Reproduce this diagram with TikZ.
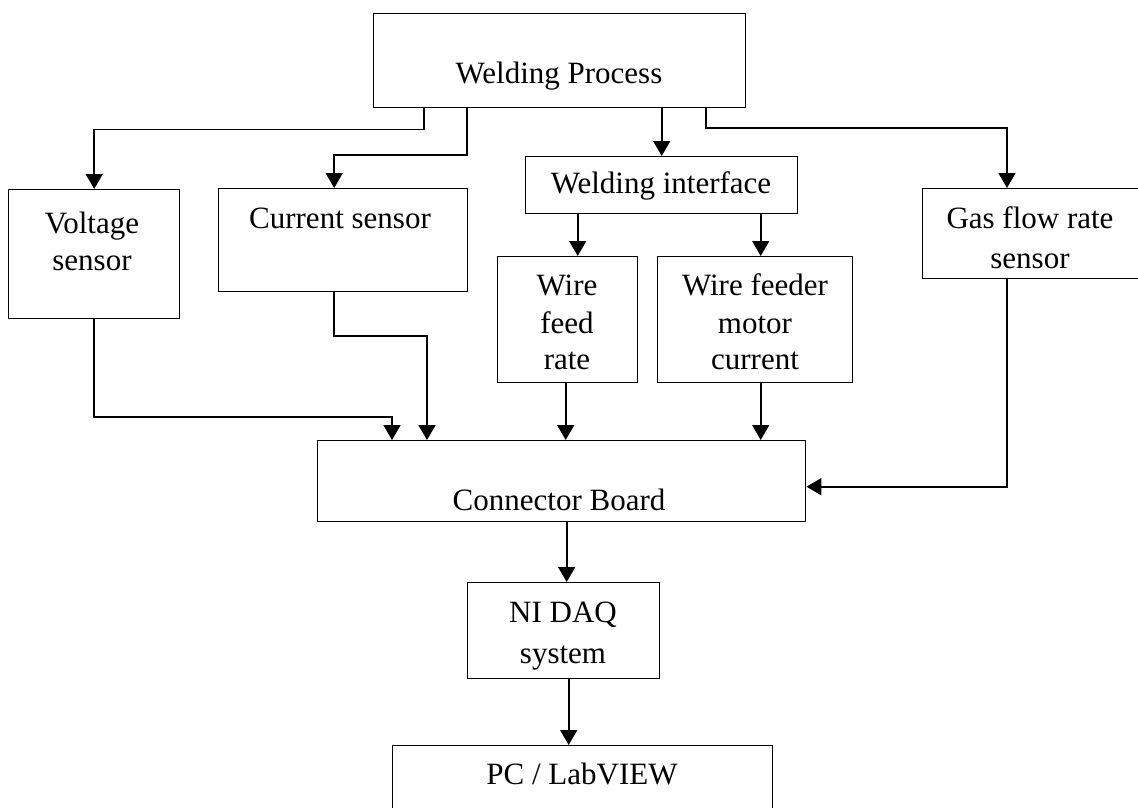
\documentclass[tikz,border=0pt]{standalone}
\usepackage{fontspec}
\setmainfont{Liberation Serif}
\usetikzlibrary{arrows.meta}
\begin{document}
\begin{tikzpicture}[x=1pt,y=-1pt,
  box/.style={draw, line width=1.4pt, rectangle, inner sep=0pt, anchor=north west},
  lbl/.style={anchor=base, inner sep=0pt, font=\fontsize{31}{37}\selectfont},
  link/.style={line width=1.6pt},
  arr/.style={link, -{Triangle[length=15pt,width=17pt]}}]
\useasboundingbox (0,0) rectangle (1138,808);
\clip (0,0) rectangle (1138,808);

% blocks
\node[box, minimum width=372pt, minimum height=94pt]  (wp) at (373,13)  {};
\node[box, minimum width=171pt, minimum height=129pt] (vs) at (8,189)   {};
\node[box, minimum width=249pt, minimum height=103pt] (cs) at (218,188) {};
\node[box, minimum width=272pt, minimum height=57pt]  (wi) at (525,156) {};
\node[box, minimum width=140pt, minimum height=126pt] (wf) at (497,256) {};
\node[box, minimum width=195pt, minimum height=126pt] (wm) at (657,256) {};
\node[box, minimum width=240pt, minimum height=90pt]  (gs) at (922,188) {};
\node[box, minimum width=488pt, minimum height=81pt]  (cb) at (317,440) {};
\node[box, minimum width=192pt, minimum height=96pt]  (nd) at (467,582) {};
\node[box, minimum width=380pt, minimum height=100pt] (pc) at (392,745) {};

% block texts
\node[lbl] (wp-t)  at (559,84)  {Welding Process};
\node[lbl] (vs-t1) at (92,233)  {Voltage};
\node[lbl] (vs-t2) at (92,270)  {sensor};
\node[lbl] (cs-t)  at (340,228) {Current sensor};
\node[lbl] (wi-t)  at (661,193) {Welding interface};
\node[lbl] (wf-t1) at (567,295) {Wire};
\node[lbl] (wf-t2) at (567,333) {feed};
\node[lbl] (wf-t3) at (567,369) {rate};
\node[lbl] (wm-t1) at (755,295) {Wire feeder};
\node[lbl] (wm-t2) at (755,333) {motor};
\node[lbl] (wm-t3) at (755,369) {current};
\node[lbl] (gs-t1) at (1030,228) {Gas flow rate};
\node[lbl] (gs-t2) at (1030,268) {sensor};
\node[lbl] (cb-t)  at (559,510) {Connector Board};
\node[lbl] (nd-t1) at (563,622) {NI DAQ};
\node[lbl] (nd-t2) at (563,663) {system};
\node[lbl] (pc-t)  at (582,784) {PC / LabVIEW};

% welding process to sensors and interface
\draw[arr] ([xshift=51pt]wp.south west) |- ([yshift=-21pt]wp.south west -| vs.north) -- (vs.north);
\draw[arr] ([xshift=94pt]wp.south west) |- ([xshift=-9pt,yshift=33pt]cs.north) -- ([xshift=-9pt]cs.north);
\draw[arr] (wi.north |- wp.south) -- (wi.north);
\draw[arr] ([xshift=333pt]wp.south west) |- ([xshift=85pt,yshift=60pt]gs.north west) -- ([xshift=85pt]gs.north west);

% interface to wire feed measurements
\draw[arr] ([xshift=10pt]wf.north |- wi.south) -- ([xshift=10pt]wf.north);
\draw[arr] ([xshift=5.5pt]wm.north |- wi.south) -- ([xshift=5.5pt]wm.north);

% measurements to connector board
\draw[arr] (vs.south) |- ([xshift=75pt,yshift=23pt]cb.north west) -- ([xshift=75pt]cb.north west);
\draw[arr] ([xshift=-9pt]cs.south) |- ([xshift=110pt,yshift=104pt]cb.north west) -- ([xshift=110pt]cb.north west);
\draw[arr] ([xshift=-2pt]wf.south) -- ([xshift=-2pt]wf.south |- cb.north);
\draw[arr] ([xshift=5.5pt]wm.south) -- ([xshift=5.5pt]wm.south |- cb.north);
\draw[arr] ([xshift=85pt]gs.south west) |- ([yshift=-5.5pt]cb.east);

% acquisition chain
\draw[arr] ([xshift=3pt]nd.north |- cb.south) -- ([xshift=3pt]nd.north);
\draw[arr] ([xshift=5pt]nd.south) -- ([xshift=5pt]nd.south |- pc.north);
\end{tikzpicture}
\end{document}
